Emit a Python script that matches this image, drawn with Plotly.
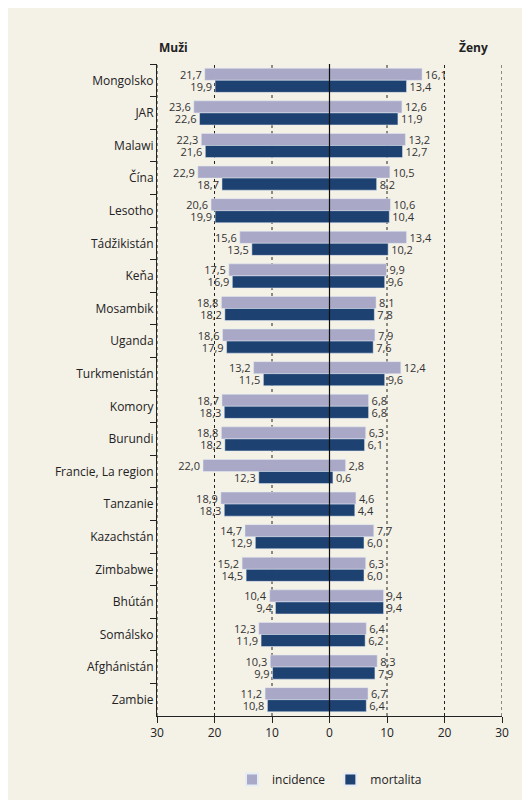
import plotly.graph_objects as go

countries = ["Mongolsko","JAR","Malawi","Čína","Lesotho","Tádžikistán","Keňa","Mosambik","Uganda",
             "Turkmenistán","Komory","Burundi","Francie, La region","Tanzanie","Kazachstán","Zimbabwe",
             "Bhútán","Somálsko","Afghánistán","Zambie"]
men_inc = [21.7,23.6,22.3,22.9,20.6,15.6,17.5,18.8,18.6,13.2,18.7,18.8,22.0,18.9,14.7,15.2,10.4,12.3,10.3,11.2]
men_mort = [19.9,22.6,21.6,18.7,19.9,13.5,16.9,18.2,17.9,11.5,18.3,18.2,12.3,18.3,12.9,14.5,9.4,11.9,9.9,10.8]
women_inc = [16.1,12.6,13.2,10.5,10.6,13.4,9.9,8.1,7.9,12.4,6.8,6.3,2.8,4.6,7.7,6.3,9.4,6.4,8.3,6.7]
women_mort = [13.4,11.9,12.7,8.2,10.4,10.2,9.6,7.8,7.6,9.6,6.8,6.1,0.6,4.4,6.0,6.0,9.4,6.2,7.9,6.4]

C_INC = "#a9a8c6"
C_MORT = "#1d4170"

def fmt(v):
    return f"{v:.1f}".replace(".", ",")

fig = go.Figure()
common = dict(orientation="h", textposition="outside", cliponaxis=False,
              textfont=dict(size=11, color="#333333"), hoverinfo="skip")
fig.add_bar(y=countries, x=[-v for v in men_inc], text=[fmt(v) for v in men_inc],
            marker_color=C_INC, name="incidence", offsetgroup="inc", **common)
fig.add_bar(y=countries, x=[-v for v in men_mort], text=[fmt(v) for v in men_mort],
            marker_color=C_MORT, name="mortalita", offsetgroup="mort", **common)
fig.add_bar(y=countries, x=women_inc, text=[fmt(v) for v in women_inc],
            marker_color=C_INC, name="incidence", offsetgroup="inc", showlegend=False, **common)
fig.add_bar(y=countries, x=women_mort, text=[fmt(v) for v in women_mort],
            marker_color=C_MORT, name="mortalita", offsetgroup="mort", showlegend=False, **common)

for xv in [-30, -20, -10, 10, 20, 30]:
    fig.add_shape(type="line", x0=xv, x1=xv, y0=0, y1=1, yref="paper",
                  line=dict(color="#222222", width=1, dash="dot"), layer="below")
fig.add_shape(type="line", x0=0, x1=0, y0=0, y1=1, yref="paper",
              line=dict(color="#111111", width=1.2))

fig.update_layout(
    width=530, height=800,
    margin=dict(l=149, r=36, t=56, b=92, autoexpand=False),
    paper_bgcolor="#f4f1e7", plot_bgcolor="#f4f1e7",
    barmode="group", bargap=0.26, bargroupgap=0,
    font=dict(family="Open Sans", size=12, color="#222222"),
    uniformtext=dict(minsize=10, mode="show"),
    xaxis=dict(range=[-30, 30], tickvals=[-30,-20,-10,0,10,20,30],
               ticktext=["30","20","10","0","10","20","30"], showgrid=False, zeroline=False,
               showline=True, linecolor="#222222", ticks="outside", ticklen=6,
               tickcolor="#222222", tickfont=dict(size=12), automargin=False),
    yaxis=dict(autorange="reversed", showgrid=False, showline=True, linecolor="#222222",
               ticks="outside", tickson="boundaries", ticklen=6, tickcolor="#222222",
               tickfont=dict(size=12), automargin=False),
    legend=dict(orientation="h", x=0.5, xanchor="center", y=-0.075, yanchor="top",
                font=dict(size=12), bgcolor="rgba(0,0,0,0)", itemwidth=30,
                itemsizing="constant", tracegroupgap=0),
    annotations=[
        dict(text="<b>Muži</b>", x=-30, y=1.0, xref="x", yref="paper", xanchor="left",
             yanchor="bottom", yshift=6, showarrow=False, font=dict(size=12)),
        dict(text="<b>Ženy</b>", x=25, y=1.0, xref="x", yref="paper", xanchor="center",
             yanchor="bottom", yshift=6, showarrow=False, font=dict(size=12)),
    ],
)
fig.write_html("out.html")
